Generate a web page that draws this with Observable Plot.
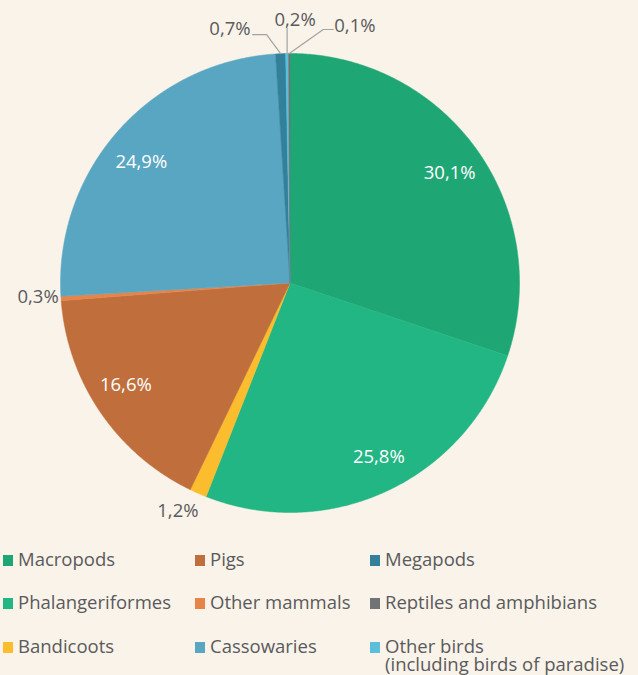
<!DOCTYPE html>
<html><head><meta charset="utf-8">
<script src="https://cdn.jsdelivr.net/npm/d3@7"></script>
<script src="https://cdn.jsdelivr.net/npm/@observablehq/plot@0.6"></script>
<style>
body{margin:0;background:#f9f3e9;font-family:"Open Sans",sans-serif;}
#wrap{position:relative;width:638px;height:675px;overflow:hidden;}
#chart svg{display:block;}
#legend{position:relative;width:638px;height:135px;}
.item{position:absolute;display:flex;align-items:flex-start;font-size:18.5px;line-height:18px;color:#5a5a5c;white-space:pre-line;}
.sw{width:10px;height:11px;margin-top:5px;margin-right:5px;flex:none;}
</style></head><body>
<div id="wrap"><div id="chart"></div><div id="legend"></div></div>
<script>
// ---- data ----
const pieNames = ["Macropods","Phalangeriformes","Bandicoots","Pigs","Other mammals","Cassowaries","Megapods","Other birds","Reptiles and amphibians"];
const pieValues = [30.1, 25.8, 1.2, 16.6, 0.3, 24.9, 0.7, 0.2, 0.1];
const pieLabels = ["30,1%","25,8%","1,2%","16,6%","0,3%","24,9%","0,7%","0,2%","0,1%"];
const pieColors = ["#1fa675","#21b683","#fbbd2e","#c06f3c","#e7844a","#58a6c2","#33809a","#5bbfdc","#717375"];
const legendNames = ["Macropods","Phalangeriformes","Bandicoots","Pigs","Other mammals","Cassowaries","Megapods","Reptiles and amphibians","Other birds"];
const legendLabels = ["Macropods","Phalangeriformes","Bandicoots","Pigs","Other mammals","Cassowaries","Megapods","Reptiles and amphibians","Other birds\n(including birds of paradise)"];

// ---- layout config ----
const W = 638, H = 540, CX = 289.5, CY = 282.5, R = 229.5;
const labelLayout = {
  "Macropods": {mode: "inside", dx: 2.3, dy: 3},
  "Phalangeriformes": {mode: "inside", dx: 6.7, dy: -2},
  "Bandicoots": {mode: "outside", dx: -11, dy: -3},
  "Pigs": {mode: "inside", dx: -4, dy: -7.5},
  "Other mammals": {mode: "outside", dx: 0, dy: -2.5},
  "Cassowaries": {mode: "inside", dx: -3.5, dy: 7.3},
  "Megapods": {mode: "leader", elbow: [-14, -19], run: -14, text: [-2, 0], anchor: "end"},
  "Other birds": {mode: "leader", elbow: [0, -25], run: 0, text: [8, -3], anchor: "middle"},
  "Reptiles and amphibians": {mode: "leader", elbow: [34, -24], run: 10, text: [1, 2], anchor: "start"}
};

const arcs = d3.pie().sort(null).value((d, i) => pieValues[i])(pieNames);
const pt = (r, a) => ({x: r * Math.sin(a), y: -r * Math.cos(a)});

// slice polygons
const polys = [];
arcs.forEach(a => {
  const name = a.data;
  const n = Math.max(2, Math.ceil((a.endAngle - a.startAngle) / (Math.PI / 720)));
  polys.push({name, x: 0, y: 0});
  for (let k = 0; k <= n; k++) {
    const p = pt(R, a.startAngle + (a.endAngle - a.startAngle) * k / n);
    polys.push({name, ...p});
  }
  polys.push({name, x: 0, y: 0});
});

const inside = [], outside = [], leaders = [], leaderTexts = [];
arcs.forEach((a, i) => {
  const name = a.data, mid = (a.startAngle + a.endAngle) / 2, cfg = labelLayout[name];
  if (cfg.mode === "inside") {
    const p = pt(0.845 * R, mid);
    inside.push({x: p.x + cfg.dx, y: p.y + cfg.dy, label: pieLabels[i]});
  } else if (cfg.mode === "outside") {
    const p = pt(1.1 * R, mid);
    outside.push({x: p.x + cfg.dx, y: p.y + cfg.dy, label: pieLabels[i]});
  } else {
    const p0 = pt(R, mid);
    const p1 = {x: p0.x + cfg.elbow[0], y: p0.y + cfg.elbow[1]};
    const p2 = {x: p1.x + cfg.run, y: p1.y};
    leaders.push({name, ...p0}, {name, ...p1}, {name, ...p2});
    leaderTexts.push({x: p2.x + cfg.text[0], y: p2.y + cfg.text[1], label: pieLabels[i], anchor: cfg.anchor});
  }
});

const chart = Plot.plot({
  width: W, height: H, margin: 0,
  x: {domain: [-CX, W - CX], range: [0, W], axis: null},
  y: {domain: [-CY, H - CY], range: [0, H], axis: null},
  color: {domain: pieNames, range: pieColors},
  style: {background: "transparent", fontFamily: "'Open Sans', sans-serif", overflow: "visible"},
  marks: [
    Plot.line(polys, {x: "x", y: "y", z: "name", fill: "name", stroke: "name", strokeWidth: 0.5, curve: "linear"}),
    Plot.line(leaders, {x: "x", y: "y", z: "name", stroke: "#a3a3a3", strokeWidth: 1.2}),
    Plot.text(inside, {x: "x", y: "y", text: "label", fill: "white", fontSize: 18.5}),
    Plot.text(outside, {x: "x", y: "y", text: "label", fill: "#5a5a5c", fontSize: 18.5}),
    ...["start", "middle", "end"].map(anchor =>
      Plot.text(leaderTexts.filter(d => d.anchor === anchor), {x: "x", y: "y", text: "label", fill: "#5a5a5c", fontSize: 18.5, textAnchor: anchor, lineAnchor: "bottom"}))
  ]
});
document.getElementById("chart").appendChild(chart);

// legend
const colLeft = [3, 195, 370];
const leg = document.getElementById("legend");
legendNames.forEach((name, i) => {
  const col = Math.floor(i / 3), row = i % 3;
  const it = document.createElement("div");
  it.className = "item";
  it.style.left = colLeft[col] + "px";
  it.style.top = (9.7 + row * 43.5) + "px";
  const sw = document.createElement("div");
  sw.className = "sw";
  sw.style.background = pieColors[pieNames.indexOf(name)];
  const tx = document.createElement("div");
  tx.textContent = legendLabels[i];
  it.appendChild(sw); it.appendChild(tx);
  leg.appendChild(it);
});
</script></body></html>
